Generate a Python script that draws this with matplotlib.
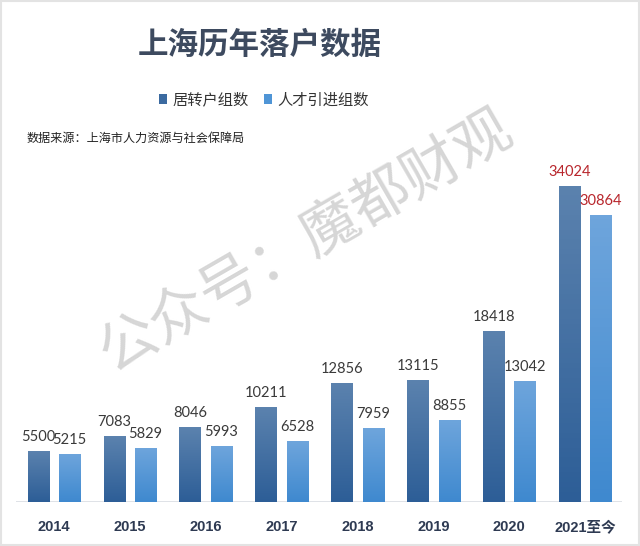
import numpy as np
import matplotlib
matplotlib.use("Agg")
import matplotlib.pyplot as plt
from matplotlib.patches import Rectangle, Patch

plt.rcParams['font.family'] = ['Noto Sans CJK SC', 'DejaVu Sans']

categories = ["2014", "2015", "2016", "2017", "2018", "2019", "2020", "2021至今"]
series_names = ["居转户组数", "人才引进组数"]
juzhuanhu = [5500, 7083, 8046, 10211, 12856, 13115, 18418, 34024]
rencai = [5215, 5829, 5993, 6528, 7959, 8855, 13042, 30864]
title = "上海历年落户数据"
source = "数据来源：上海市人力资源与社会保障局"
watermark = "公众号：魔都财观"

W, H = 640, 546
fig = plt.figure(figsize=(W / 100, H / 100), dpi=100)
fig.patch.set_facecolor("white")

ax = fig.add_axes([16 / W, 44 / H, 606 / W, (H - 44 - 150) / H])
ax.set_facecolor("none")
x = np.arange(len(categories))
bw = 0.28
off = 0.207

grad_dark = ("#5b82ae", "#2d5e97")
grad_light = ("#6ea5dc", "#3f89cf")

def gradient_bars(bars, top, bottom):
    c1 = np.array(matplotlib.colors.to_rgb(top))
    c2 = np.array(matplotlib.colors.to_rgb(bottom))
    t = np.linspace(0, 1, 64)[:, None]
    img = (c1 * (1 - t) + c2 * t)[:, None, :]
    for b in bars:
        x0, y0 = b.get_x(), b.get_y()
        w, h = b.get_width(), b.get_height()
        im = ax.imshow(img, extent=[x0, x0 + w, y0, y0 + h], aspect="auto",
                       origin="upper", zorder=3)
        im.set_clip_path(b)
        b.set_facecolor("none")
        b.set_edgecolor("none")

b1 = ax.bar(x - off, juzhuanhu, bw, zorder=3)
b2 = ax.bar(x + off, rencai, bw, zorder=3)
gradient_bars(b1, *grad_dark)
gradient_bars(b2, *grad_light)

ax.set_xlim(-0.5, -0.5 + 606 / 75.9)
ax.set_ylim(0, 352 / 316 * 34024)
for s in ax.spines.values():
    s.set_visible(False)
ax.set_xticks([])
ax.set_yticks([])
ax.axhline(0, color="#d9dde3", lw=1.2, zorder=2)

for i, (a, b) in enumerate(zip(juzhuanhu, rencai)):
    col = "#b8262c" if i == len(categories) - 1 else "#3a3a3a"
    ax.annotate(f"{a}", (x[i] - off, a), xytext=(0, 5), textcoords="offset points",
                ha="center", va="bottom", fontsize=10.5, color=col, family=["Lato", "DejaVu Sans"])
    ax.annotate(f"{b}", (x[i] + off, b), xytext=(0, 5), textcoords="offset points",
                ha="center", va="bottom", fontsize=10.5, color=col, family=["Lato", "DejaVu Sans"])
    ax.annotate(categories[i], (x[i], 0), xytext=(0, -18), textcoords="offset points",
                ha="center", va="center", fontsize=10.5, fontweight="bold", color="#2e3a52",
                family=["Liberation Sans", "Noto Sans CJK SC"])

fig.text(260 / W, 1 - 45 / H, title, ha="center", va="center", fontsize=22,
         fontweight="bold", color="#3d4a5f")

handles = [Patch(facecolor="#3b6aa0"), Patch(facecolor="#4f95d6")]
fig.legend(handles, series_names, loc="center", bbox_to_anchor=(264 / W, 1 - 100 / H),
           ncol=2, frameon=False, fontsize=11, handlelength=0.55, handleheight=0.55,
           handletextpad=0.35, columnspacing=1.0, labelcolor="#333333")

fig.text(27 / W, 1 - 138 / H, source, ha="left", va="center", fontsize=8.7, color="#222222")

fig.text(305 / W, 1 - 242 / H, watermark, ha="center", va="center", fontsize=42,
         color="#d2d2d2", rotation=30, rotation_mode="anchor", zorder=0, alpha=0.9)

fig.patches.append(Rectangle((0.002, 0.002), 0.996, 0.996, transform=fig.transFigure,
                             fill=False, edgecolor="#e3e3e3", lw=1.5))

fig.savefig("out.png", dpi=100)
